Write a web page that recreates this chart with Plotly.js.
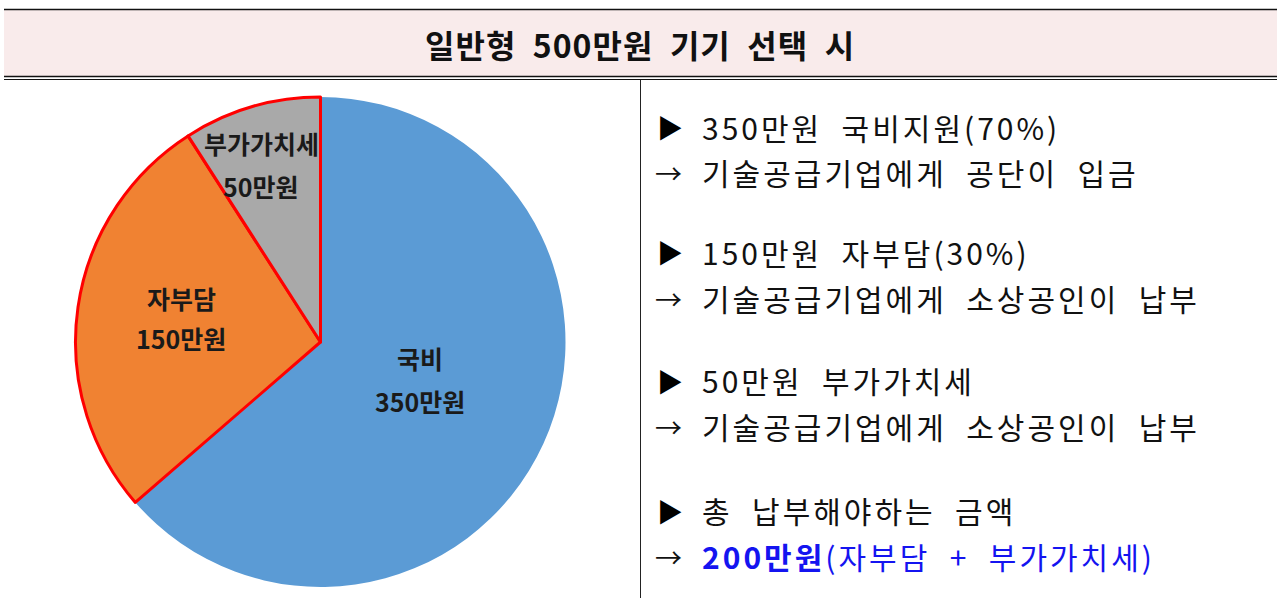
<!DOCTYPE html>
<html>
<head>
<meta charset="utf-8">
<script src="https://cdn.plot.ly/plotly-3.0.1.min.js"></script>
<style>
html,body{margin:0;padding:0;background:#fff;}
#chart{width:1280px;height:598px;}
text[style*="Roboto"]{letter-spacing:3px;}
text[style*="Lato"]{letter-spacing:1px;}
</style>
</head>
<body>
<div id="chart"></div>
<script>
// ---- data ----
const titleText = '일반형\u00A0\u00A0500만원\u00A0\u00A0기기\u00A0\u00A0선택\u00A0\u00A0시';
const sliceLabels = ['국비', '자부담', '부가가치세'];
const sliceValues = [350, 150, 50];
const sliceUnit = '만원';
const sliceColors = ['#5B9BD5', '#F08232', '#A9A9A9'];
const sliceLineColors = ['#5B9BD5', '#FF0000', '#FF0000'];
const sliceLineWidths = [0, 3, 3];
const bulletMarks = ['▶', '→', '▶', '→', '▶', '→', '▶', '→'];
const bulletTexts = [
  '350만원\u00A0\u00A0국비지원(70%)',
  '기술공급기업에게\u00A0\u00A0공단이\u00A0\u00A0입금',
  '150만원\u00A0\u00A0자부담(30%)',
  '기술공급기업에게\u00A0\u00A0소상공인이\u00A0\u00A0납부',
  '50만원\u00A0\u00A0부가가치세',
  '기술공급기업에게\u00A0\u00A0소상공인이\u00A0\u00A0납부',
  '총\u00A0\u00A0납부해야하는\u00A0\u00A0금액',
  '<b>200만원</b>(자부담\u00A0\u00A0+\u00A0\u00A0부가가치세)'
];
const bulletColors = ['#111', '#111', '#111', '#111', '#111', '#111', '#111', '#1414F0'];

// ---- layout helpers ----
const W = 1280, H = 598;
const px = x => x / W;
const py = y => 1 - y / H;
const FONT = '"Noto Sans CJK KR", "Noto Sans", sans-serif';
const FONT_BODY = '"Noto Sans CJK KR", Roboto, sans-serif';   // spaced body text
const FONT_TITLE = '"Noto Sans CJK KR", Lato, sans-serif';    // spaced title

const lineY = [127, 172, 252, 298, 380, 426, 510, 556];
const labelPos = [[420, 358, 401], [181, 298, 338], [261, 143, 186]];

const annotations = [];
bulletTexts.forEach((t, i) => {
  const tri = bulletMarks[i] === '▶';
  annotations.push({
    xref: 'paper', yref: 'paper', x: px(tri ? 655 : 653), y: py(lineY[i]),
    xanchor: 'left', yanchor: 'middle', showarrow: false,
    text: bulletMarks[i],
    font: {family: FONT, size: tri ? 26 : 27, color: tri ? '#000' : '#111'}
  });
  annotations.push({
    xref: 'paper', yref: 'paper', x: px(700), y: py(lineY[i]),
    xanchor: 'left', yanchor: 'middle', showarrow: false,
    text: t,
    font: {family: FONT_BODY, size: 30, color: bulletColors[i]}
  });
});
sliceLabels.forEach((l, i) => {
  annotations.push({
    xref: 'paper', yref: 'paper', x: px(labelPos[i][0]), y: py(labelPos[i][1]),
    xanchor: 'center', yanchor: 'middle', showarrow: false,
    text: '<b>' + l + '</b>',
    font: {family: FONT, size: 25, color: '#1a1a1a'}
  });
  annotations.push({
    xref: 'paper', yref: 'paper', x: px(labelPos[i][0]), y: py(labelPos[i][2]),
    xanchor: 'center', yanchor: 'middle', showarrow: false,
    text: '<b>' + sliceValues[i] + sliceUnit + '</b>',
    font: {family: FONT, size: 25, color: '#1a1a1a'}
  });
});
annotations.push({
  xref: 'paper', yref: 'paper', x: px(640), y: py(44),
  xanchor: 'center', yanchor: 'middle', showarrow: false,
  text: '<b>' + titleText + '</b>',
  font: {family: FONT_TITLE, size: 32, color: '#111'}
});

const shapes = [
  {type: 'rect', xref: 'paper', yref: 'paper', x0: px(4), x1: px(1277), y0: py(9.5), y1: py(76), fillcolor: '#F9EBEB', line: {width: 0}, layer: 'below'},
  {type: 'line', xref: 'paper', yref: 'paper', x0: px(4), x1: px(1277), y0: py(9.5), y1: py(9.5), line: {color: '#111', width: 1.5}},
  {type: 'line', xref: 'paper', yref: 'paper', x0: px(4), x1: px(1277), y0: py(76.5), y1: py(76.5), line: {color: '#111', width: 1.6}},
  {type: 'line', xref: 'paper', yref: 'paper', x0: px(4), x1: px(1277), y0: py(79.5), y1: py(79.5), line: {color: '#111', width: 1.2}},
  {type: 'line', xref: 'paper', yref: 'paper', x0: px(640.5), x1: px(640.5), y0: py(80), y1: py(598), line: {color: '#222', width: 1}}
];

const trace = {
  type: 'pie',
  labels: sliceLabels,
  values: sliceValues,
  sort: false,
  direction: 'clockwise',
  rotation: 0,
  textinfo: 'none',
  hoverinfo: 'label+value',
  marker: {colors: sliceColors, line: {color: sliceLineColors, width: sliceLineWidths}},
  domain: {x: [px(75), px(566)], y: [py(587), py(97)]},
  showlegend: false
};

const layout = {
  width: W, height: H,
  margin: {l: 0, r: 0, t: 0, b: 0},
  paper_bgcolor: '#fff',
  plot_bgcolor: '#fff',
  showlegend: false,
  shapes: shapes,
  annotations: annotations
};

Plotly.newPlot('chart', [trace], layout, {staticPlot: true});
</script>
</body>
</html>
